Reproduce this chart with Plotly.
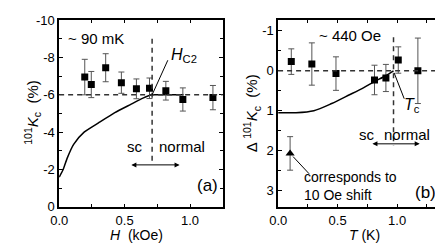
import plotly.graph_objects as go

# ---------------- data: panel (a) ----------------
h_kOe = [0.195, 0.245, 0.355, 0.475, 0.59, 0.69, 0.815, 0.945, 1.175]
k_a = [-6.95, -6.55, -7.45, -6.65, -6.32, -6.35, -6.22, -5.75, -5.85]
k_a_err = [0.95, 0.7, 0.75, 0.57, 0.53, 0.55, 0.5, 0.62, 0.65]
curve_a_h = [0.0, 0.03, 0.06, 0.11, 0.19, 0.3, 0.425, 0.55, 0.64, 0.71, 0.8, 0.95]
curve_a_k = [-1.6, -2.0, -2.6, -3.35, -4.0, -4.5, -5.05, -5.5, -5.82, -6.0, -6.0, -6.0]
normal_k_a = -6.0
hc2_field = 0.71
hc2_tip = [0.83, -7.85]

# ---------------- data: panel (b) ----------------
t_K = [0.11, 0.283, 0.486, 0.81, 0.906, 1.01, 1.175]
dk_b = [-0.23, -0.17, 0.07, 0.23, 0.18, -0.27, 0.0]
dk_b_err = [0.32, 0.53, 0.42, 0.37, 0.34, 0.33, 0.82]
shift_t = [0.1]
shift_dk = [2.07]
shift_err = [0.42]
curve_b_t = [0.0, 0.15, 0.3, 0.45, 0.6, 0.72, 0.81, 0.9, 0.97]
curve_b_dk = [1.05, 1.05, 1.0, 0.82, 0.6, 0.42, 0.27, 0.13, 0.0]
normal_dk_b = 0.0
tc = 0.97

# tick labels
ya_vals = [0, -2, -4, -6, -8, -10]
ya_text = ["0", "-2", "-4", "-6", "-8", "-10"]
yb_vals = [-1, 0, 1, 2, 3]
yb_text = ["-1", "0", "1", "2", "3"]
x_vals = [0.0, 0.5, 1.0]
x_text = ["0.0", "0.5", "1.0"]

W, H = 443, 244
FONT = "Liberation Sans, Arial, sans-serif"


def px(x):
    return x / W


def py(y):
    return 1 - y / H


fig = go.Figure()

err_style = dict(type="data", thickness=1, width=3, color="#555")

# panel a
fig.add_trace(go.Scatter(x=curve_a_h, y=curve_a_k, mode="lines", line=dict(color="black", width=1.5, shape="spline", smoothing=0.6),
                         xaxis="x", yaxis="y", showlegend=False))
fig.add_trace(go.Scatter(x=h_kOe, y=k_a, mode="markers", marker=dict(symbol="square", size=7, color="black"),
                         error_y=dict(array=k_a_err, **err_style), xaxis="x", yaxis="y", showlegend=False))

# panel b
fig.add_trace(go.Scatter(x=curve_b_t, y=curve_b_dk, mode="lines", line=dict(color="black", width=1.5, shape="spline", smoothing=0.8),
                         xaxis="x2", yaxis="y2", showlegend=False))
fig.add_trace(go.Scatter(x=t_K, y=dk_b, mode="markers", marker=dict(symbol="square", size=7, color="black"),
                         error_y=dict(array=dk_b_err, **err_style), xaxis="x2", yaxis="y2", showlegend=False))
fig.add_trace(go.Scatter(x=shift_t, y=shift_dk, mode="markers", marker=dict(symbol="triangle-up", size=8, color="black"),
                         error_y=dict(array=shift_err, **err_style), xaxis="x2", yaxis="y2", showlegend=False))

dash = dict(color="#333", width=1.5, dash="5px,4px")
shapes = [
    dict(type="line", xref="x domain", yref="y", x0=0, x1=1, y0=normal_k_a, y1=normal_k_a, line=dash),
    dict(type="line", xref="x", yref="y", x0=hc2_field, x1=hc2_field, y0=-9.0, y1=-2.4, line=dash),
    dict(type="line", xref="x", yref="y", x0=hc2_field, x1=hc2_tip[0], y0=normal_k_a, y1=hc2_tip[1], line=dict(color="black", width=1)),
    dict(type="line", xref="x2 domain", yref="y2", x0=0, x1=1, y0=normal_dk_b, y1=normal_dk_b, line=dash),
    dict(type="line", xref="x2", yref="y2", x0=tc, x1=tc, y0=-0.84, y1=1.87, line=dash),
    dict(type="line", xref="x2", yref="y2", x0=tc + 0.005, x1=1.06, y0=0.05, y1=0.7, line=dict(color="black", width=1)),
    dict(type="line", xref="x2", yref="y2", x0=0.125, x1=0.26, y0=2.15, y1=2.58, line=dict(color="black", width=1)),
]

tf = dict(family=FONT, size=15, color="black")
C = dict(xanchor="center", yanchor="middle")
annotations = [
    dict(xref="x", yref="y", x=0.05, y=-9.0, text="~ 90 mK", showarrow=False, xanchor="left", yanchor="middle", font=tf),
    dict(xref="x", yref="y", x=0.84, y=-8.1, text="<i>H</i><sub>C2</sub>", showarrow=False, xanchor="left", yanchor="middle",
         font=dict(family=FONT, size=16, color="black")),
    dict(xref="x", yref="y", x=0.58, y=-3.25, text="sc", showarrow=False, font=tf, **C),
    dict(xref="x", yref="y", x=0.94, y=-3.25, text="normal", showarrow=False, font=tf, **C),
    dict(xref="x", yref="y", x=0.92, y=-2.25, ax=0.54, ay=-2.25, axref="x", ayref="y", text="", showarrow=True,
         arrowside="end+start", arrowhead=2, arrowsize=1, arrowwidth=1, arrowcolor="black"),
    dict(xref="x", yref="y", x=1.13, y=-1.15, text="(a)", showarrow=False, font=dict(family=FONT, size=17, color="black"), **C),
    dict(xref="x2", yref="y2", x=0.33, y=-0.88, text="~ 440 Oe", showarrow=False, xanchor="left", yanchor="middle", font=tf),
    dict(xref="x2", yref="y2", x=1.04, y=0.88, text="<i>T</i><sub>c</sub>", showarrow=False, xanchor="left", yanchor="middle",
         font=dict(family=FONT, size=16, color="black")),
    dict(xref="x2", yref="y2", x=0.83, y=1.6, text="sc", showarrow=False, xanchor="right", yanchor="middle", font=tf),
    dict(xref="x2", yref="y2", x=0.87, y=1.6, text="normal", showarrow=False, xanchor="left", yanchor="middle", font=tf),
    dict(xref="x2", yref="y2", x=1.19, y=1.83, ax=0.78, ay=1.83, axref="x2", ayref="y2", text="", showarrow=True,
         arrowside="end+start", arrowhead=2, arrowsize=1, arrowwidth=1, arrowcolor="black"),
    dict(xref="x2", yref="y2", x=0.2, y=2.66, text="corresponds to", showarrow=False, xanchor="left", yanchor="middle",
         font=dict(family=FONT, size=14, color="black")),
    dict(xref="x2", yref="y2", x=0.2, y=3.1, text="10 Oe shift", showarrow=False, xanchor="left", yanchor="middle",
         font=dict(family=FONT, size=14, color="black")),
    dict(xref="x2", yref="y2", x=1.24, y=3.05, text="(b)", showarrow=False, font=dict(family=FONT, size=17, color="black"), **C),
    # axis titles
    dict(xref="paper", yref="paper", x=px(122), y=py(233), text="<i>H</i>  (kOe)", showarrow=False,
         font=dict(family=FONT, size=14, color="black"), **C),
    dict(xref="paper", yref="paper", x=px(355), y=py(233), text="<i>T</i> (K)", showarrow=False,
         font=dict(family=FONT, size=14, color="black"), **C),
    dict(xref="paper", yref="paper", x=px(15), y=py(104), text="<sup>101</sup><i>K</i><sub>c</sub>  (%)", showarrow=False,
         textangle=-90, font=tf, **C),
    dict(xref="paper", yref="paper", x=px(239), y=py(104), text="Δ <sup>101</sup><i>K</i><sub>c</sub>  (%)", showarrow=False,
         textangle=-90, font=tf, **C),
]

ax_common = dict(showgrid=False, zeroline=False, showline=True, linecolor="black", linewidth=1.5, mirror="ticks",
                 ticks="inside", ticklen=4, tickcolor="black", ticklabeloverflow="allow",
                 tickfont=dict(family=FONT, size=13, color="black"))

fig.update_layout(
    width=W, height=H, margin=dict(l=0, r=0, t=0, b=0),
    paper_bgcolor="white", plot_bgcolor="white",
    xaxis=dict(domain=[px(43), px(210)], range=[-0.001, 1.25], tickvals=x_vals, ticktext=x_text, anchor="y",
               minor=dict(dtick=0.25, ticks="inside", ticklen=4, tickcolor="black"), **ax_common),
    yaxis=dict(domain=[py(204), py(5)], range=[0.02, -10.02], tickvals=ya_vals, ticktext=ya_text, anchor="x",
               minor=dict(dtick=1, ticks="inside", ticklen=3, tickcolor="black"), **ax_common),
    xaxis2=dict(domain=[px(266.5), px(436.5)], range=[-0.001, 1.4], tickvals=x_vals, ticktext=x_text, anchor="y2",
                minor=dict(dtick=0.25, ticks="inside", ticklen=4, tickcolor="black"), **ax_common),
    yaxis2=dict(domain=[py(204), py(5)], range=[3.42, -1.28], tickvals=yb_vals, ticktext=yb_text, anchor="x2",
                minor=dict(dtick=0.5, ticks="inside", ticklen=3, tickcolor="black"), **ax_common),
    shapes=shapes, annotations=annotations,
)

fig.write_html("out.html")
